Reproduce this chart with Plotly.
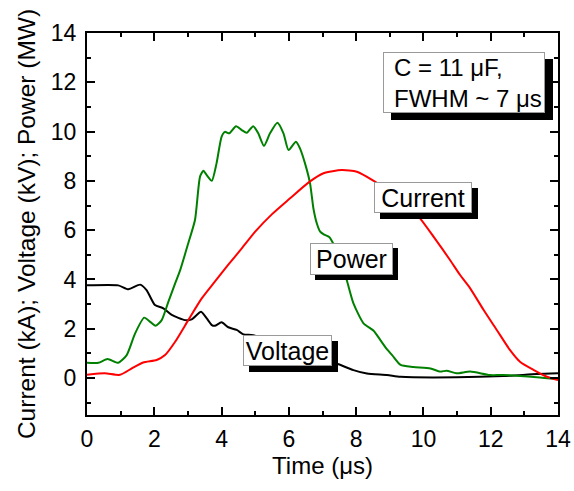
import plotly.graph_objects as go

# ---- data ----
power_t = [0.0, 0.34, 0.61, 0.93, 1.18, 1.43, 1.70, 1.87, 2.04, 2.22, 2.42, 2.62, 2.77, 3.01, 3.21,
           3.36, 3.46, 3.56, 3.71, 3.85, 4.00, 4.10, 4.23, 4.43, 4.60, 4.75, 4.94, 5.09, 5.26, 5.44,
           5.66, 5.84, 5.99, 6.21, 6.33, 6.48, 6.63, 6.73, 6.83, 6.93, 7.05, 7.20, 7.37, 7.55, 7.72,
           7.92, 8.22, 8.52, 8.72, 8.92, 9.07, 9.32, 9.70, 10.21, 10.50, 10.69, 10.98, 11.39, 11.97,
           12.38, 13.37, 14.0]
power_mw = [0.62, 0.62, 0.77, 0.62, 0.93, 1.81, 2.45, 2.29, 2.12, 2.35, 3.10, 3.84, 4.38, 5.47, 6.41,
            8.17, 8.41, 8.23, 8.00, 8.71, 9.79, 9.99, 9.93, 10.22, 10.06, 9.95, 10.22, 9.93, 9.42, 9.93,
            10.36, 9.93, 9.25, 9.59, 9.32, 8.71, 7.90, 6.88, 6.28, 5.94, 5.82, 5.72, 5.31, 4.70, 3.98,
            3.03, 2.22, 1.92, 1.54, 1.16, 0.93, 0.53, 0.45, 0.39, 0.26, 0.30, 0.19, 0.26, 0.12,
            0.12, 0.03, -0.05]

current_t = [0.0, 0.53, 0.98, 1.33, 1.67, 2.07, 2.32, 2.62, 3.01, 3.41, 3.80, 4.20, 4.60, 5.00, 5.50,
             6.00, 6.60, 7.03, 7.57, 8.02, 8.51, 9.00, 9.50, 9.90, 10.30, 10.79, 11.09, 11.39, 11.79,
             12.18, 12.57, 12.87, 13.27, 13.67, 14.0]
current_ka = [0.13, 0.19, 0.13, 0.39, 0.63, 0.73, 0.93, 1.47, 2.35, 3.23, 3.91, 4.60, 5.26, 5.94, 6.65,
              7.25, 7.95, 8.31, 8.44, 8.37, 8.01, 7.55, 7.05, 6.48, 5.74, 4.79, 4.18, 3.64, 2.76,
              1.95, 1.14, 0.66, 0.33, 0.05, -0.08]

voltage_t = [0.0, 0.93, 1.23, 1.58, 1.77, 2.02, 2.27, 2.52, 2.91, 3.11, 3.39, 3.56, 3.71, 3.80, 4.00,
             4.20, 4.45, 4.65, 4.94, 5.50, 6.00, 6.50, 7.00, 7.42, 7.92, 8.32, 8.92, 9.32, 10.98,
             12.38, 13.37, 14.0]
voltage_kv = [3.76, 3.76, 3.60, 3.79, 3.57, 2.96, 2.83, 2.56, 2.35, 2.38, 2.69, 2.42, 2.15, 2.12, 2.26,
              2.06, 1.95, 1.77, 1.74, 1.45, 1.20, 0.95, 0.75, 0.59, 0.32, 0.18, 0.12, 0.05, 0.03,
              0.08, 0.16, 0.19]

x_ticks = [0, 2, 4, 6, 8, 10, 12, 14]
y_ticks = [0, 2, 4, 6, 8, 10, 12, 14]

FONT = "Liberation Sans, Arial, sans-serif"

fig = go.Figure()
fig.add_trace(go.Scatter(x=voltage_t, y=voltage_kv, mode="lines", name="Voltage",
                         line=dict(color="#000000", width=2, shape="spline", smoothing=0.6)))
fig.add_trace(go.Scatter(x=power_t, y=power_mw, mode="lines", name="Power",
                         line=dict(color="#008000", width=2, shape="spline", smoothing=0.6)))
fig.add_trace(go.Scatter(x=current_t, y=current_ka, mode="lines", name="Current",
                         line=dict(color="#ff0000", width=2, shape="spline", smoothing=0.6)))


def label(text, x, y, w, h, size=25, dx=6, dy=6):
    # drop shadow (blank box)
    fig.add_annotation(x=x, y=y, xref="x", yref="y", text=" ", showarrow=False,
                       width=w - 2, height=h - 2, borderpad=0, borderwidth=1,
                       bgcolor="#000000", bordercolor="#000000",
                       font=dict(family=FONT, size=size, color="#000000"),
                       xshift=dx, yshift=-dy)
    # box
    fig.add_annotation(x=x, y=y, xref="x", yref="y", text=text, showarrow=False,
                       width=w - 2, height=h - 2, borderpad=0, borderwidth=1,
                       bgcolor="#ffffff", bordercolor="#9a9a9a",
                       font=dict(family=FONT, size=size, color="#000000"))


label("Current", 9.99, 7.32, 98, 31)
label("Power", 7.86, 4.85, 83, 32, dx=5, dy=5)
label("Voltage", 5.96, 1.12, 89, 31)

# info box: shadow + empty box + left aligned text
label(" ", 11.21, 11.99, 162, 61, dx=8, dy=7)
fig.add_annotation(x=9.07, y=11.99, xref="x", yref="y", xanchor="left",
                   text="C = 11 μF,<br>FWHM ~ 7 μs", showarrow=False, align="left",
                   font=dict(family=FONT, size=24, color="#000000"))

axis_common = dict(
    showline=True, linecolor="#000000", linewidth=2, mirror="allticks",
    ticks="inside", ticklen=8, tickwidth=2, tickcolor="#000000",
    showgrid=False, zeroline=False, automargin=False,
    tickfont=dict(family=FONT, size=23, color="#000000"),
    minor=dict(ticks="inside", ticklen=4, tickwidth=2, tickcolor="#000000", dtick=1),
)

fig.update_xaxes(range=[0, 14], tickvals=x_ticks, ticktext=[str(v) for v in x_ticks],
                 ticklabelstandoff=2,
                 title=dict(text="Time (μs)", font=dict(family=FONT, size=24, color="#000000"),
                            standoff=6),
                 **axis_common)
fig.update_yaxes(range=[-1.5, 14], tickvals=y_ticks, ticktext=[str(v) for v in y_ticks],
                 ticklabelstandoff=4,
                 title=dict(text="Current (kA); Voltage (kV); Power (MW)",
                            font=dict(family=FONT, size=24.5, color="#000000"), standoff=8),
                 **axis_common)

fig.update_layout(width=574, height=491, autosize=False,
                  margin=dict(l=87, r=16, t=33, b=76),
                  paper_bgcolor="#ffffff", plot_bgcolor="#ffffff",
                  showlegend=False)

fig.write_html("out.html", config={"displayModeBar": False},
               post_script="document.body.style.margin='0';document.body.style.overflow='hidden';")
